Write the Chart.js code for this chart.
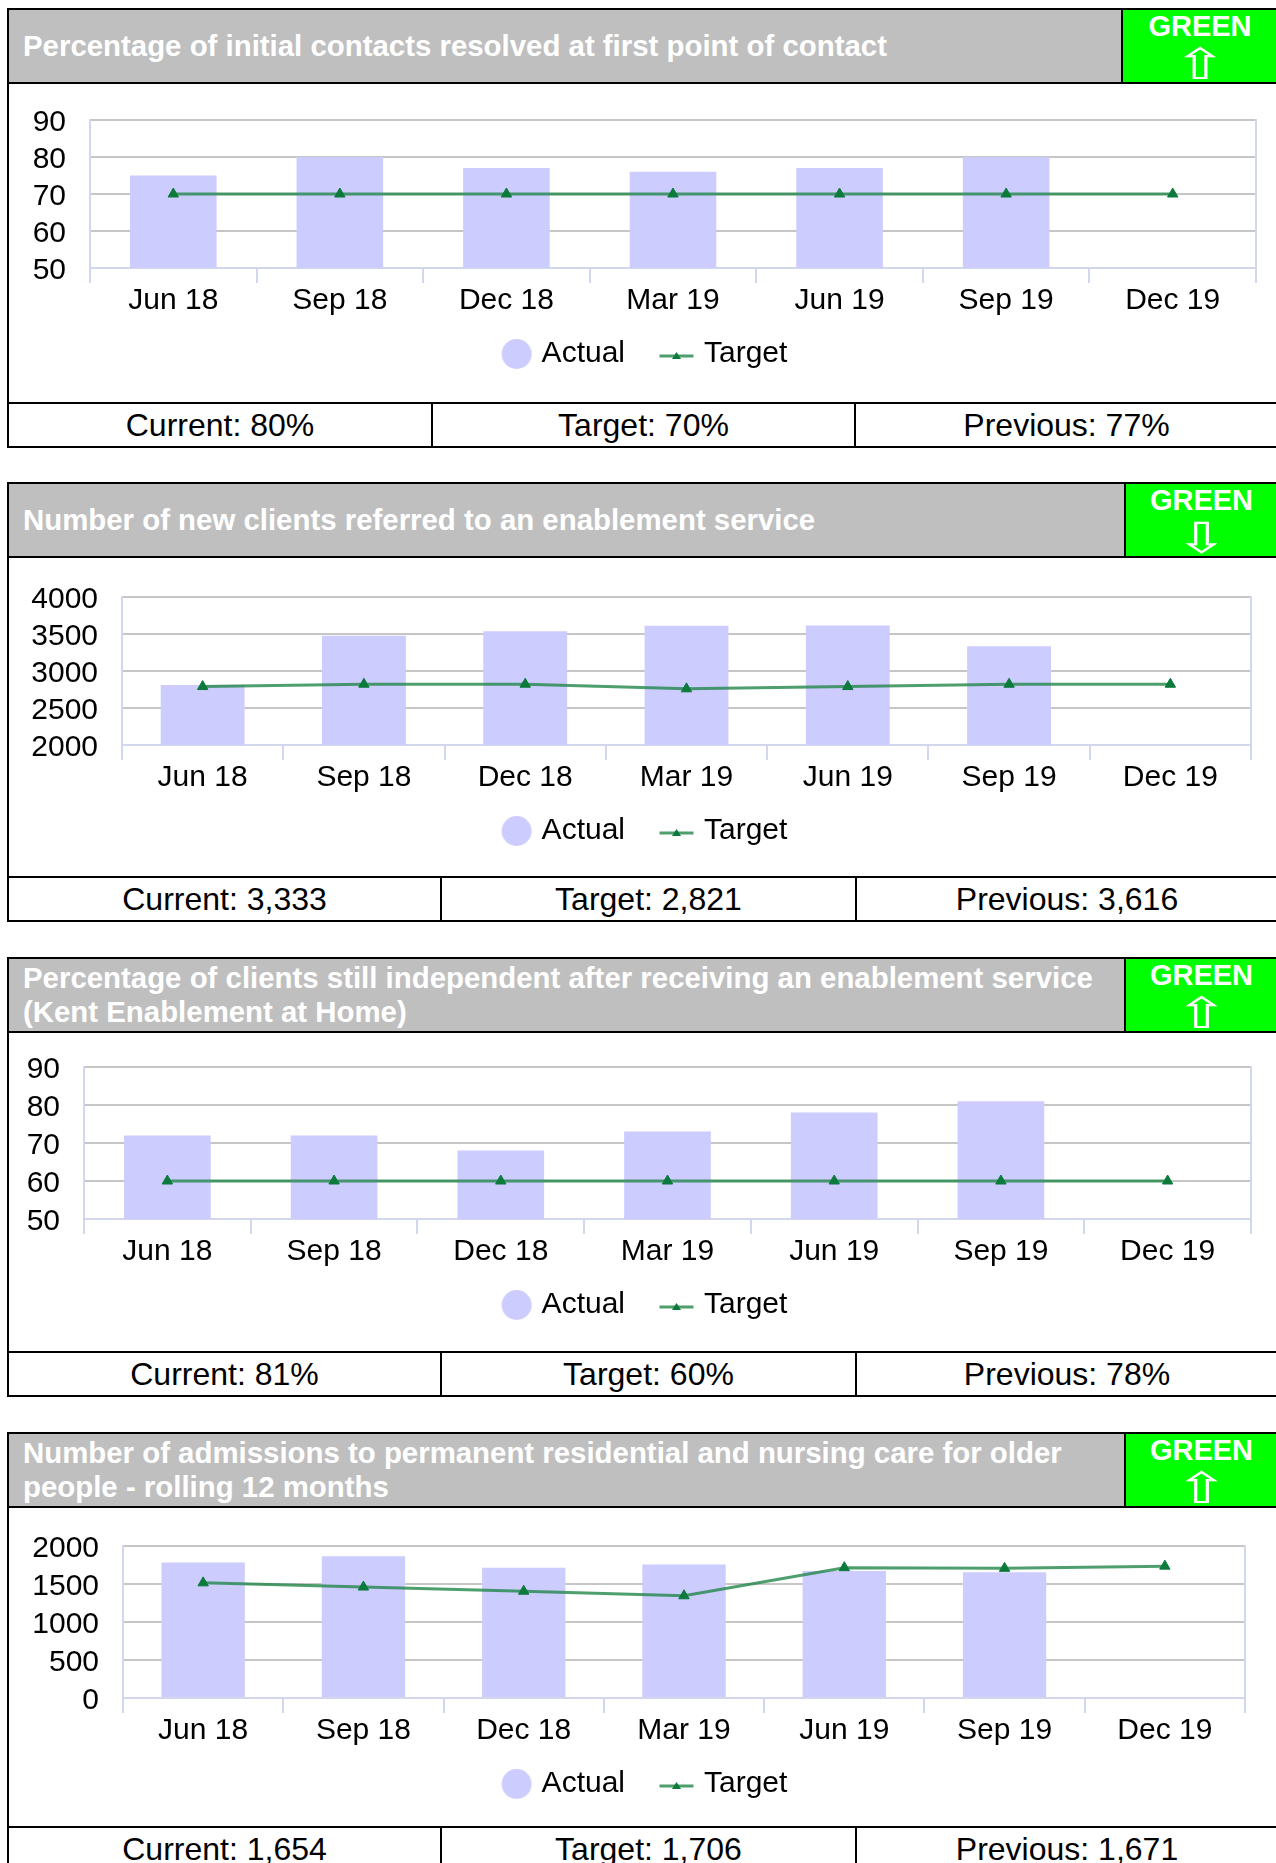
<!DOCTYPE html>
<html>
<head>
<meta charset="utf-8">
<title>Adult social care performance indicators</title>
<script src="https://cdn.jsdelivr.net/npm/chart.js@4.4.1/dist/chart.umd.min.js"></script>
<style>
  html, body { margin: 0; padding: 0; background: #fff; }
  body { width: 1276px; height: 1863px; overflow: hidden; position: relative;
         font-family: 'Liberation Sans', Arial, sans-serif; }
  .panel { position: absolute; left: 7px; width: 1268px; border: 2px solid #000; }
  .head { position: relative; height: 72px; background: #bfbfbf; border-bottom: 2px solid #000; }
  .title { position: absolute; left: 14px; top: 0; bottom: 0; right: 170px; display: flex;
           align-items: center; color: #fff; font-weight: bold; font-size: 29.4px;
           line-height: 34px; white-space: nowrap; }
  .rag { position: absolute; top: 0; bottom: 0; right: 0; background: #00ff00;
         border-left: 2px solid #000; color: #fff; text-align: center; }
  .rag .word { position: absolute; left: 0; right: 0; top: 2px; font-weight: bold;
               font-size: 29px; line-height: 29px; }
  .rag .arrow { position: absolute; left: 0; right: 0; top: 33px; font-family: 'DejaVu Sans';
                font-size: 43px; line-height: 43px; transform: scaleX(1.5); }
  .body { position: relative; height: 318px; }
  .body canvas { position: absolute; left: 0; top: 0; }
  .foot { position: relative; height: 42px; border-top: 2px solid #000; font-size: 32px; }
  .foot div { position: absolute; top: 0; height: 42px; line-height: 42px; text-align: center;
              color: #000; box-sizing: border-box; }
</style>
</head>
<body>
<script>
// quarter labels shared by every indicator
const quarters = ['Jun 18', 'Sep 18', 'Dec 18', 'Mar 19', 'Jun 19', 'Sep 19', 'Dec 19'];

// contacts resolved at first point of contact (%)
const contactsActual = [75, 80, 77, 76, 77, 80, null];
const contactsTarget = [70, 70, 70, 70, 70, 70, 70];
const contactsTicks = [50, 90, 10];

// new clients referred to enablement
const referralsActual = [2811, 3478, 3538, 3610, 3616, 3333, null];
const referralsTarget = [2790, 2821, 2821, 2759, 2790, 2821, 2821];
const referralsTicks = [2000, 4000, 500];

// still independent after enablement (%)
const independentActual = [72, 72, 68, 73, 78, 81, null];
const independentTarget = [60, 60, 60, 60, 60, 60, 60];
const independentTicks = [50, 90, 10];

// admissions to residential / nursing care, rolling 12 months
const admissionsActual = [1782, 1865, 1715, 1758, 1671, 1654, null];
const admissionsTarget = [1515, 1460, 1405, 1345, 1715, 1706, 1735];
const admissionsTicks = [0, 2000, 500];

const BAR = '#ccccff';
const LINE = 'rgba(34, 134, 74, 0.8)';
const MARK = '#0b7a3b';
const AXIS = '#d3d7ee';
const GRID = '#c6c6c6';

Chart.defaults.font.family = "'Liberation Sans', Arial, sans-serif";
Chart.defaults.color = '#000';

const panels = [
  { title: 'Percentage of initial contacts resolved at first point of contact',
    arrow: '\u21E7', actual: contactsActual, target: contactsTarget, ticks: contactsTicks, unit: '%',
    top: 8, ragLeft: 1112, split: [422, 845],
    plot: { left: 81, right: 1247, top: 36, bottom: 184 } },
  { title: 'Number of new clients referred to an enablement service',
    arrow: '\u21E9', actual: referralsActual, target: referralsTarget, ticks: referralsTicks, unit: '',
    top: 482, ragLeft: 1115, split: [431, 846],
    plot: { left: 113, right: 1242, top: 39, bottom: 187 } },
  { title: 'Percentage of clients still independent after receiving an enablement service<br>(Kent Enablement at Home)',
    arrow: '\u21E7', actual: independentActual, target: independentTarget, ticks: independentTicks, unit: '%',
    top: 957, ragLeft: 1115, split: [431, 846],
    plot: { left: 75, right: 1242, top: 34, bottom: 186 } },
  { title: 'Number of admissions to permanent residential and nursing care for older<br>people - rolling 12 months',
    arrow: '\u21E7', actual: admissionsActual, target: admissionsTarget, ticks: admissionsTicks, unit: '',
    top: 1432, ragLeft: 1115, split: [431, 846],
    plot: { left: 114, right: 1236, top: 38, bottom: 190 } }
];

// legend geometry: the icon box is wide so the gap between the two entries
// comes from the icon canvases rather than from the (vertical) label padding
const LEG_FONT = 30, LEG_PAD = 16, LEG_BOX = 48;
const LEG_DROP = 86;   // legend text centre below the x axis line

function legendIcon(kind) {
  const c = document.createElement('canvas');
  const g = c.getContext('2d');
  if (kind === 'bar') {
    c.width = 60; c.height = 30;
    const cx = 30 + (LEG_BOX / 2 - 10);
    g.fillStyle = BAR;
    g.beginPath(); g.arc(cx, 15, 15, 0, Math.PI * 2); g.fill();
  } else {
    c.width = 58; c.height = 18;
    const cx = 29 + (LEG_BOX / 2 - 12.5);
    g.strokeStyle = LINE; g.lineWidth = 3;
    g.beginPath(); g.moveTo(cx - 17, 11); g.lineTo(cx + 17, 11); g.stroke();
    g.fillStyle = MARK;
    g.beginPath(); g.moveTo(cx, 7); g.lineTo(cx + 4.5, 14); g.lineTo(cx - 4.5, 14); g.closePath(); g.fill();
  }
  return c;
}
const icons = [legendIcon('bar'), legendIcon('line')];

function fmt(v, unit) { return v.toLocaleString('en-GB') + unit; }

function buildPanel(p) {
  const el = document.createElement('div');
  el.className = 'panel';
  el.style.top = p.top + 'px';
  const cur = p.actual[5], prev = p.actual[4], tgt = p.target[5];
  el.innerHTML =
    '<div class="head"><div class="title"><div>' + p.title + '</div></div>' +
    '<div class="rag" style="left:' + p.ragLeft + 'px"><div class="word">GREEN</div>' +
    '<div class="arrow">' + p.arrow + '</div></div></div>' +
    '<div class="body"><canvas width="1268" height="318"></canvas></div>' +
    '<div class="foot">' +
    '<div style="left:0;width:' + p.split[0] + 'px">Current: ' + fmt(cur, p.unit) + '</div>' +
    '<div style="left:' + p.split[0] + 'px;width:' + (p.split[1] - p.split[0]) + 'px;border-left:2px solid #000">Target: ' + fmt(tgt, p.unit) + '</div>' +
    '<div style="left:' + p.split[1] + 'px;width:' + (1268 - p.split[1]) + 'px;border-left:2px solid #000">Previous: ' + fmt(prev, p.unit) + '</div>' +
    '</div>';
  document.body.appendChild(el);
  makeChart(el.querySelector('canvas'), p);
}

function makeChart(canvas, p) {
  const W = canvas.width, H = canvas.height;
  const L = p.plot;
  const legendH = LEG_FONT + LEG_PAD + 10;
  const legendTop = L.bottom + LEG_DROP - LEG_PAD - LEG_FONT / 2;
  const shift = 20;   // nudges the centred legend to the left

  return new Chart(canvas, {
    type: 'bar',
    data: {
      labels: quarters,
      datasets: [
        { type: 'bar', label: 'Actual', data: p.actual, backgroundColor: BAR,
          barPercentage: 0.52, categoryPercentage: 1, order: 1 },
        { type: 'line', label: 'Target', data: p.target, borderColor: LINE, borderWidth: 3,
          pointStyle: 'triangle', pointRadius: 6, pointBackgroundColor: MARK,
          pointBorderColor: MARK, pointBorderWidth: 1, tension: 0, order: 0 }
      ]
    },
    options: {
      responsive: false,
      animation: false,
      devicePixelRatio: 1,
      layout: { padding: { top: L.top, left: 0, right: shift, bottom: H - legendTop - legendH } },
      plugins: {
        tooltip: { enabled: false },
        legend: {
          position: 'bottom',
          labels: {
            usePointStyle: true, pointStyleWidth: LEG_BOX, boxHeight: 21, padding: LEG_PAD,
            color: '#000', font: { size: LEG_FONT },
            sort: (a, b) => a.datasetIndex - b.datasetIndex,
            generateLabels(chart) {
              const items = Chart.defaults.plugins.legend.labels.generateLabels(chart);
              items.forEach(it => { it.pointStyle = icons[it.datasetIndex]; });
              return items;
            }
          }
        }
      },
      scales: {
        x: {
          grid: { drawOnChartArea: false, drawTicks: true, tickLength: 15, color: AXIS, lineWidth: 2, offset: true },
          border: { color: AXIS, width: 2 },
          ticks: { color: '#000', font: { size: 30, lineHeight: 1 }, padding: 3, maxRotation: 0, autoSkip: false },
          afterFit(s) { s.height = legendTop - L.bottom; }
        },
        y: {
          min: p.ticks[0], max: p.ticks[1],
          ticks: { stepSize: p.ticks[2], autoSkip: false, color: '#000', font: { size: 30 },
                   padding: 0, labelOffset: 3, callback: v => v },
          grid: { color: GRID, lineWidth: 2, drawTicks: true, tickLength: 24, tickColor: 'rgba(0,0,0,0)' },
          border: { color: AXIS, width: 2 },
          afterFit(s) { s.width = L.left; }
        },
        y2: {
          position: 'right',
          grid: { drawOnChartArea: false, drawTicks: false },
          ticks: { display: false },
          border: { color: AXIS, width: 2 },
          afterFit(s) { s.width = W - L.right - shift; }
        }
      }
    }
  });
}

panels.forEach(buildPanel);
</script>
</body>
</html>
